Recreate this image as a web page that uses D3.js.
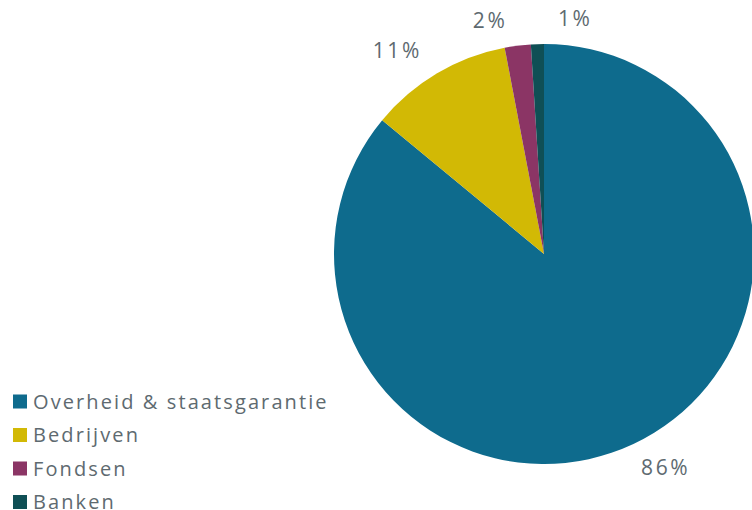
<!DOCTYPE html>
<html>
<head>
<meta charset="utf-8">
<script src="https://cdn.jsdelivr.net/npm/d3@7"></script>
<style>
  html, body { margin: 0; padding: 0; background: #ffffff; }
  svg { display: block; }
</style>
</head>
<body>
<div id="chart"></div>
<script>
// Portfolio split by counterparty type (percent of total)
const categories = ["Overheid & staatsgarantie", "Bedrijven", "Fondsen", "Banken"];
const values = [86, 11, 2, 1];
const colors = ["#0e6b8d", "#d2b905", "#8b3565", "#0f4f55"];

const width = 752, height = 510;
const cx = 544, cy = 254, radius = 210;
const labelRadius = 228;
const textColor = "#5e6a70";

const svg = d3.select("#chart").append("svg")
  .attr("width", width)
  .attr("height", height);

const pie = d3.pie().sort(null).value(d => d.value);
const data = pie(categories.map((c, i) => ({ name: c, value: values[i], color: colors[i] })));

const arc = d3.arc().innerRadius(0).outerRadius(radius);

const g = svg.append("g").attr("transform", `translate(${cx},${cy})`);

g.selectAll("path.slice")
  .data(data)
  .join("path")
  .attr("class", "slice")
  .attr("d", arc)
  .attr("fill", d => d.data.color);

// Percentage labels sit just outside the rim, corner nearest the centre on the label ring
const fmt = v => d3.format(".0f")(v) + "%";
const nudge = [0, -6, -8, 0];
g.selectAll("text.pct")
  .data(data)
  .join("text")
  .attr("class", "pct")
  .each(function (d, i) {
    const a = (d.startAngle + d.endAngle) / 2;
    let x = labelRadius * Math.sin(a);
    const y = -labelRadius * Math.cos(a);
    let anchor = Math.sin(a) >= 0 ? "start" : "end";
    // the thinnest slice sits at twelve o'clock; keep its label clear of its neighbour
    if (i === data.length - 1) { anchor = "start"; x = 14; }
    const below = Math.cos(a) < 0;
    d3.select(this)
      .attr("x", x + nudge[i])
      .attr("y", below ? y + 15 : y)
      .attr("text-anchor", anchor);
  })
  .attr("font-family", "'Open Sans', sans-serif")
  .attr("font-size", 21)
  .attr("letter-spacing", 2.6)
  .attr("fill", textColor)
  .text(d => fmt(d.data.value));

// Legend
const legend = svg.append("g").attr("transform", "translate(13,401.5)");
const rowH = 33.5;
const rows = legend.selectAll("g.row")
  .data(categories)
  .join("g")
  .attr("class", "row")
  .attr("transform", (d, i) => `translate(0,${i * rowH})`);

rows.append("rect")
  .attr("x", 0).attr("y", -7)
  .attr("width", 14).attr("height", 14)
  .attr("fill", (d, i) => colors[i]);

rows.append("text")
  .attr("x", 20).attr("y", 7)
  .attr("font-family", "'Open Sans', sans-serif")
  .attr("font-size", 20)
  .attr("letter-spacing", 2.1)
  .attr("fill", textColor)
  .text(d => d);
</script>
</body>
</html>
